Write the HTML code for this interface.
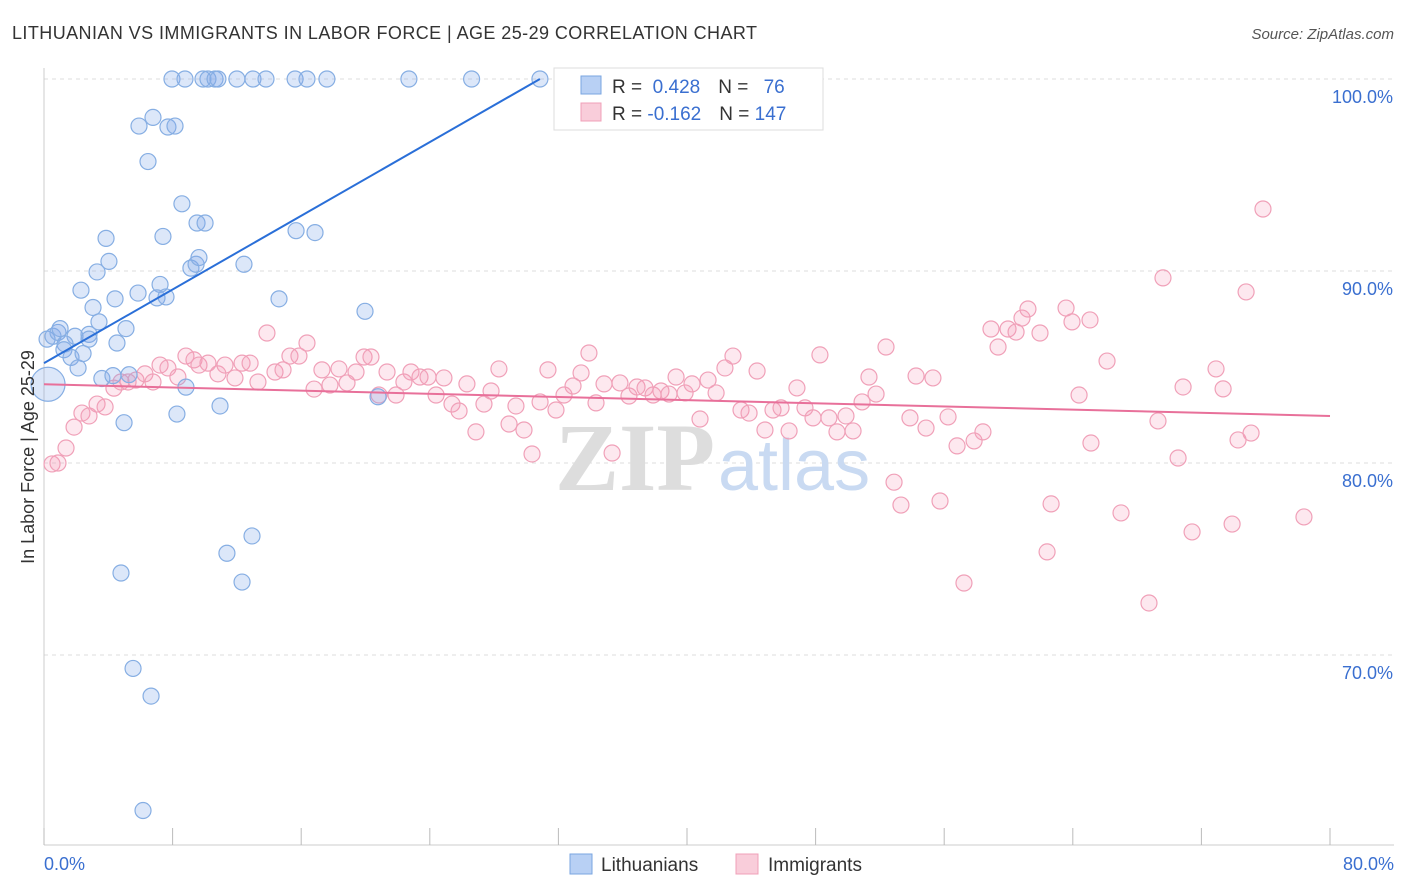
<!DOCTYPE html>
<html><head><meta charset="utf-8"><style>
body{margin:0;background:#fff;font-family:"Liberation Sans",sans-serif;}
svg{display:block}
</style></head><body>
<svg id="chart" width="1406" height="892">
<text x="12" y="39" font-size="18" fill="#333" textLength="745" lengthAdjust="spacing">LITHUANIAN VS IMMIGRANTS IN LABOR FORCE | AGE 25-29 CORRELATION CHART</text>
<text x="1394" y="39" font-size="15" fill="#555" text-anchor="end" font-style="italic">Source: ZipAtlas.com</text>
<g id="grid"></g>
<text x="715" y="490" font-size="96" fill="#ddd" text-anchor="end" font-family="Liberation Serif" font-weight="bold">ZIP</text>
<text x="718" y="490" font-size="72" fill="#c9daf2">atlas</text>
<g id="marks"></g>
<text transform="translate(34,457) rotate(-90)" font-size="18" fill="#333" text-anchor="middle">In Labor Force | Age 25-29</text>
<g>
<rect x="554" y="68" width="269" height="62" fill="#fff" stroke="#ddd"/>
<rect x="581" y="76" width="20" height="18" fill="#b8d0f4" stroke="#7aa6e0"/>
<rect x="581" y="103" width="20" height="18" fill="#f9cdda" stroke="#f0a0b8"/>
<text x="612" y="93" font-size="19" fill="#333">R = <tspan fill="#3a6fd0">&#160;0.428</tspan><tspan dx="18">N = </tspan><tspan fill="#3a6fd0" dx="10">76</tspan></text>
<text x="612" y="120" font-size="19" fill="#333">R = <tspan fill="#3a6fd0">-0.162</tspan><tspan dx="18">N = </tspan><tspan fill="#3a6fd0">147</tspan></text>
</g>
<g>
<rect x="570" y="854" width="22" height="20" fill="#b8d0f4" stroke="#7aa6e0"/>
<text x="601" y="871" font-size="19" fill="#333">Lithuanians</text>
<rect x="736" y="854" width="22" height="20" fill="#f9cdda" stroke="#f0a0b8"/>
<text x="768" y="871" font-size="19" fill="#333">Immigrants</text>
</g>
</svg>
<script>
const yTicks=[70,80,90,100];
const xTickVals=[0,8,16,24,32,40,48,56,64,72,80];
const xLabels=["0.0%","80.0%"];
const blueX=[7.96,8.77,9.89,10.2,10.64,10.82,12.0,13.0,13.81,15.62,16.36,17.6,22.7,26.6,30.85,32.7,5.91,6.78,7.71,8.15,6.47,8.58,9.52,10.02,3.86,7.4,4.04,3.3,9.14,9.46,9.64,12.44,15.68,16.86,2.3,4.42,5.85,7.22,7.03,7.59,14.62,19.97,3.05,3.42,5.1,0.19,0.56,0.87,1.0,1.93,1.31,2.8,4.54,2.8,1.24,1.68,2.43,2.12,0.25,3.6,5.29,8.83,4.29,8.27,10.95,4.98,20.78,11.38,12.94,4.79,12.32,5.54,6.66,6.16];
const blueY=[100,100,100,100,100,100,100,100,100,100,100,100,100,100,100,100,97.55,98.0,97.5,97.55,95.7,93.5,92.5,92.5,91.7,91.8,90.5,89.95,90.15,90.35,90.7,90.35,92.1,92.0,89.0,88.55,88.85,89.3,88.6,88.65,88.55,87.9,88.1,87.35,87.0,86.45,86.6,86.8,87.0,86.6,86.2,86.7,86.25,86.45,85.9,85.5,85.7,84.95,84.1,84.4,84.6,83.95,84.55,82.55,82.97,82.1,83.45,75.3,76.2,74.27,73.8,69.3,67.86,61.9];
const pinkX=[0.5,0.87,1.37,1.87,2.36,2.8,3.3,3.8,4.35,4.79,5.23,5.72,6.28,6.78,7.22,7.71,8.33,8.83,9.33,9.64,10.2,10.82,11.26,11.88,12.32,12.82,13.31,13.87,14.37,14.87,15.3,15.86,16.36,16.8,17.29,17.79,18.35,18.85,19.41,19.91,20.34,20.84,21.34,21.9,22.39,22.83,23.39,23.89,24.39,24.88,25.38,25.82,26.31,26.87,27.37,27.81,28.3,28.93,29.36,29.86,30.36,30.86,31.35,31.85,32.35,32.91,33.41,33.9,34.34,34.84,35.34,35.83,36.39,36.89,37.39,37.89,38.38,38.88,39.32,39.88,40.31,40.81,41.31,41.81,42.36,42.86,43.36,43.86,44.36,44.85,45.35,45.85,46.35,46.84,47.34,47.84,48.27,48.83,49.33,49.89,50.33,50.89,51.32,51.76,52.38,52.88,53.31,53.87,54.25,54.87,55.3,55.74,56.24,56.8,57.23,57.86,58.41,58.91,59.35,59.97,60.47,60.84,61.21,61.96,62.4,62.65,63.58,63.95,64.39,65.07,65.13,66.13,67.0,68.74,69.3,69.61,70.55,70.86,71.42,72.91,73.35,73.91,74.28,75.09,74.78,75.83,78.38];
const pinkY=[79.95,80.0,80.78,81.87,82.6,82.45,83.07,82.92,83.9,84.22,84.22,84.32,84.64,84.22,85.1,84.95,84.48,85.57,85.37,85.1,85.2,84.64,85.1,84.43,85.2,85.2,84.22,86.77,84.74,84.85,85.57,85.57,86.25,83.85,84.85,84.06,84.9,84.17,84.74,85.52,85.52,83.54,84.74,83.54,84.22,84.74,84.48,84.48,83.54,84.43,83.07,82.71,84.12,81.62,83.07,83.75,84.9,82.03,82.97,81.72,80.47,83.18,84.85,82.76,83.54,84.01,84.69,85.73,83.13,84.12,80.52,84.17,83.49,83.96,83.91,83.54,83.75,83.59,84.48,83.65,84.12,82.29,84.32,83.65,84.95,85.57,82.76,82.6,84.79,81.72,82.76,82.87,81.67,83.91,82.87,82.35,85.63,82.35,81.62,82.45,81.67,83.18,84.48,83.59,86.04,79.0,77.81,82.35,84.53,81.82,84.43,78.02,82.4,80.89,73.75,81.15,81.62,86.98,86.04,86.98,86.82,87.55,88.02,86.77,75.37,77.87,88.07,87.35,83.54,87.45,81.04,85.31,77.4,72.71,82.19,89.64,80.26,83.96,76.41,84.9,83.86,76.82,81.2,81.56,88.91,93.23,77.19];
const blueTrendX=[0,30.85];
const blueTrendY=[85.2,100];
const pinkTrendX=[0,80];
const pinkTrendY=[84.1,82.45];

const NS="http://www.w3.org/2000/svg";
const X=v=>44+v*(1286/80);
const Y=v=>79+(100-v)*19.2;
function mk(tag,attrs,parent){const e=document.createElementNS(NS,tag);for(const k in attrs)e.setAttribute(k,attrs[k]);parent.appendChild(e);return e;}
const grid=document.getElementById('grid');
const marks=document.getElementById('marks');
yTicks.forEach(t=>{
  const l=mk('line',{x1:44,x2:1394,y1:Y(t),y2:Y(t),stroke:'#ddd','stroke-dasharray':'4,4'},grid);
  
  
  const tx=mk('text',{x:1393,y:Y(t)+24,'font-size':18,fill:'#3a6fd0','text-anchor':'end'},grid);
  tx.textContent=t.toFixed(1)+'%';
  
  
});
const ax=mk('line',{x1:44,x2:44,y1:68,y2:845,stroke:'#ccc'},grid);


const bx=mk('line',{x1:44,x2:1394,y1:845,y2:845,stroke:'#ccc'},grid);


xTickVals.forEach(t=>{
  const l=mk('line',{x1:X(t),x2:X(t),y1:828,y2:845,stroke:'#bbb'},grid);
  
  
});
[[0,xLabels[0],'start',44],[80,xLabels[1],'end',1394]].forEach(a=>{
  const tx=mk('text',{x:a[3],y:870,'font-size':18,fill:'#3a6fd0','text-anchor':a[2]},grid);
  tx.textContent=a[1];
  
  
});
pinkX.forEach((x,i)=>{
  const c=mk('circle',{cx:X(x),cy:Y(pinkY[i]),r:8,fill:'rgba(244,150,180,0.22)',stroke:'#f0a0b8','stroke-width':1.2},marks);
  
  
});
blueX.forEach((x,i)=>{
  const big=(i===58);
  const c=mk('circle',{cx:X(x),cy:Y(blueY[i]),r:big?17:8,fill:'rgba(130,170,235,0.28)',stroke:'#86aee3','stroke-width':1.2},marks);
  
  
});
const bt=mk('line',{x1:X(blueTrendX[0]),y1:Y(blueTrendY[0]),x2:X(blueTrendX[1]),y2:Y(blueTrendY[1]),stroke:'#2a6fd8','stroke-width':2},marks);


const pt=mk('line',{x1:X(pinkTrendX[0]),y1:Y(pinkTrendY[0]),x2:X(pinkTrendX[1]),y2:Y(pinkTrendY[1]),stroke:'#e8709a','stroke-width':2},marks);


</script>
</body></html>
